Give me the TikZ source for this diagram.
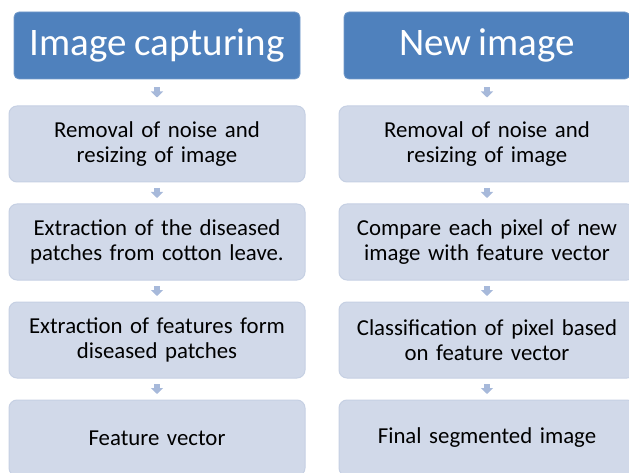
\documentclass[tikz,border=0pt]{standalone}
\usepackage{fontspec}
\setmainfont{Carlito}[WordSpace=0.85]
\usepackage{tikz}
\usetikzlibrary{arrows.meta, positioning}
\definecolor{headblue}{HTML}{4F81BD}
\definecolor{stepfill}{HTML}{D1D9E9}
\definecolor{stepline}{HTML}{C6D0E3}
\definecolor{arrowblue}{HTML}{A7B9DA}

\tikzset{
  headbox/.style={fill=headblue, draw=headblue!80!white, line width=0.8pt,
    rounded corners=5pt, minimum width=286pt, minimum height=67pt,
    inner sep=0pt, text=white, font=\fontsize{39}{44}\selectfont},
  stepbox/.style={fill=stepfill, draw=stepline, line width=1pt,
    rounded corners=8pt, minimum width=296pt, minimum height=76pt,
    inner sep=0pt, text width=294pt, align=center,
    font=\fontsize{22.8}{25}\selectfont},
  flow/.style={draw=arrowblue, line width=5.5pt,
    -{Triangle[width=12pt, length=6pt]}, shorten <=5.5pt, shorten >=5.5pt},
  flowtop/.style={flow, shorten <=8pt, shorten >=8pt}
}

\begin{document}
\begin{tikzpicture}[x=1pt, y=-1pt]
    \useasboundingbox (0,0) rectangle (629,473);
    \clip (0,0) rectangle (629,473);
    % left column
    \node[headbox] (capture) at (157, 45.5) {Image capturing};
    \node[stepbox] (lrem)  at (157, 144) {Removal of noise and\\resizing of image};
    \node[stepbox] (lext)  at (157, 242) {Extraction of the diseased\\patches from cotton leave.};
    \node[stepbox] (lfeat) at (157, 340) {Extraction of features form\\diseased patches};
    \node[stepbox] (lvec)  at (157, 438) {Feature vector};
    % right column
    \node[headbox] (newimg) at (487, 45.5) {New image};
    \node[stepbox] (rrem) at (487, 144) {Removal of noise and\\resizing of image};
    \node[stepbox] (rcmp) at (487, 242) {Compare each pixel of new\\image with feature vector};
    \node[stepbox] (rcls) at (487, 340) {Classification of pixel based\\on feature vector};
    \node[stepbox] (rseg) at (487, 438) {Final segmented image};
    % arrows
    \draw[flowtop] (capture) -- (lrem);
    \draw[flowtop] (newimg) -- (rrem);
    \foreach \a/\b in {lrem/lext, lext/lfeat, lfeat/lvec, rrem/rcmp, rcmp/rcls, rcls/rseg}
      \draw[flow] (\a) -- (\b);
\end{tikzpicture}
\end{document}
